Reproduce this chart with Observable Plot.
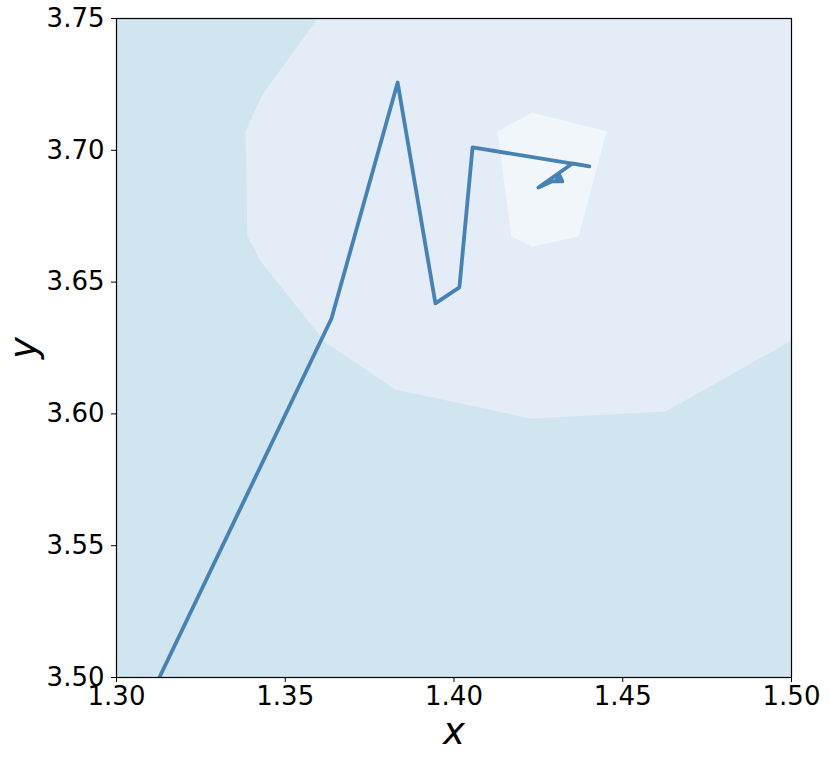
<!DOCTYPE html>
<html>
<head>
<meta charset="utf-8">
<script src="https://cdn.jsdelivr.net/npm/d3@7"></script>
<script src="https://cdn.jsdelivr.net/npm/@observablehq/plot@0.6"></script>
<style>
  html, body { margin: 0; padding: 0; background: #fff; }
</style>
</head>
<body>
<div id="chart"></div>
<script>
// Descent path
const pathX = [1.3127, 1.3637, 1.3833, 1.3945, 1.4016, 1.4055, 1.4401, 1.4351, 1.4250, 1.4289, 1.4321, 1.4313, 1.4301];
const pathY = [3.5000, 3.6362, 3.7257, 3.6419, 3.6480, 3.7011, 3.6939, 3.6950, 3.6859, 3.6882, 3.6882, 3.6904, 3.6885];

// Contour level polygons
const midX = [1.3596, 1.3433, 1.3382, 1.3388, 1.3430, 1.3619, 1.3827, 1.4227, 1.4627, 1.5000, 1.5000];
const midY = [3.7500, 3.7212, 3.7071, 3.6673, 3.6574, 3.6271, 3.6093, 3.5983, 3.6009, 3.6278, 3.7500];
const innerX = [1.4129, 1.4230, 1.4452, 1.4369, 1.4233, 1.4170];
const innerY = [3.7071, 3.7143, 3.7071, 3.6673, 3.6635, 3.6673];

const xTicks = [1.30, 1.35, 1.40, 1.45, 1.50];
const yTicks = [3.50, 3.55, 3.60, 3.65, 3.70, 3.75];

const levelColors = ["#d1e5f0", "#e4edf7", "#f1f6fb"];

const zip = (xs, ys) => xs.map((x, i) => ({x, y: ys[i]}));
const path = zip(pathX, pathY);
const mid = zip(midX, midY);
const inner = zip(innerX, innerY);

const chart = Plot.plot({
  width: 830,
  height: 760,
  marginLeft: 116,
  marginRight: 39,
  marginTop: 18,
  marginBottom: 83,
  style: {fontFamily: "DejaVu Sans", fontSize: "26px", color: "#000", background: "#fff"},
  x: {domain: [1.30, 1.50], ticks: xTicks, tickFormat: ".2f", tickSize: 5, tickPadding: 4, label: null},
  y: {domain: [3.50, 3.75], ticks: yTicks, tickFormat: ".2f", tickSize: 5, tickPadding: 7, label: null},
  marks: [
    Plot.frame({fill: levelColors[0], stroke: "none"}),
    Plot.line(mid, {x: "x", y: "y", fill: levelColors[1], stroke: "none", clip: true}),
    Plot.line(inner, {x: "x", y: "y", fill: levelColors[2], stroke: "none", clip: true}),
    Plot.line(path, {x: "x", y: "y", stroke: "#4682b4", strokeWidth: 3.8, strokeLinejoin: "round", strokeLinecap: "round", clip: true}),
    Plot.frame({stroke: "#000", strokeWidth: 1.2}),
    Plot.text(["x"], {frameAnchor: "bottom", lineAnchor: "middle", textAnchor: "middle", dy: 54.5, fontSize: 37, fontStyle: "italic", fill: "#000"}),
    Plot.text(["y"], {frameAnchor: "left", lineAnchor: "middle", textAnchor: "middle", dx: -92.5, rotate: -90, fontSize: 37, fontStyle: "italic", fill: "#000"})
  ]
});
document.getElementById("chart").appendChild(chart);
</script>
</body>
</html>
